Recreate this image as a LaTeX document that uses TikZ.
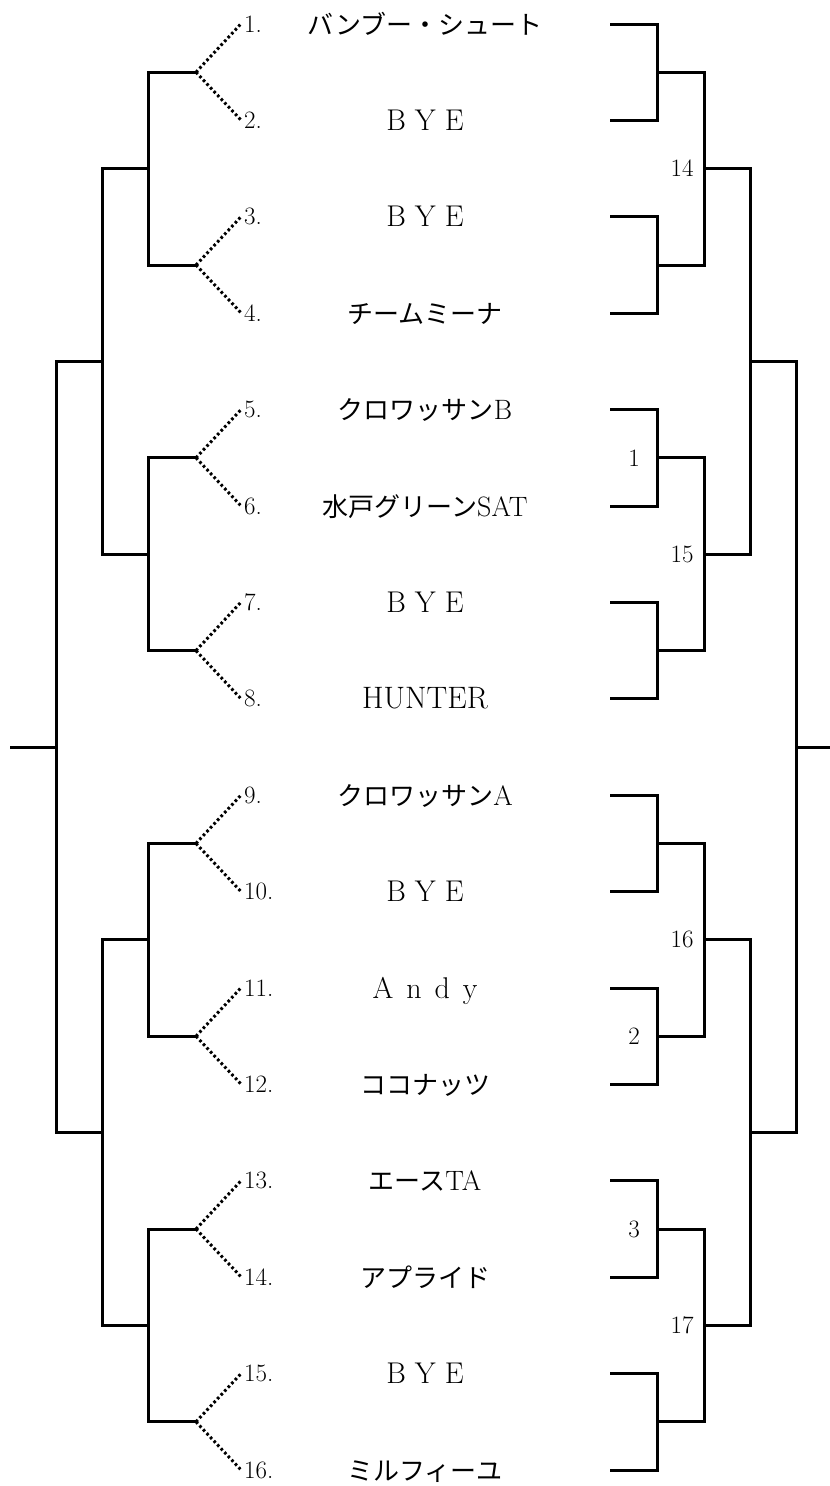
\documentclass[tikz,border=0pt]{standalone}
\usepackage{
	fontspec,			% Fonts
	tikz
}
\newfontfamily\jpfont{Noto Sans CJK JP}
\newcommand{\jp}[1]{{\jpfont\fontsize{26}{30}\selectfont #1}}
\newcommand{\lat}[1]{{\fontsize{28}{32}\selectfont #1}}
\newcommand{\byetext}{{\fontsize{30}{34}\selectfont B\hspace{.3em}Y\hspace{.3em}E}}
\newcommand{\andytext}{{\fontsize{30}{34}\selectfont A\hspace{.43em}n\hspace{.43em}d\hspace{.43em}y}}
\tikzset{
	bracket/.style={line width=3pt},
	dots/.style={line width=3pt, dash pattern=on 2.6pt off 2.6pt},
	team/.style={anchor=base, inner sep=0pt},
	num/.style={anchor=base west, inner sep=0pt, font=\fontsize{25}{29}\selectfont},
	seed/.style={inner sep=0pt, font=\fontsize{25}{29}\selectfont}
}

\begin{document}
\begin{tikzpicture}[x=1pt, y=-1pt]
			\useasboundingbox (0,0) rectangle (830,1486);
			\foreach \i/\name in {1/{\jp{バンブー・シュート}}, 2/{\byetext}, 3/{\byetext}, 4/{\jp{チームミーナ}},
				5/{\jp{クロワッサン}\lat{B}}, 6/{\jp{水戸グリーン}\lat{SAT}}, 7/{\byetext}, 8/{\fontsize{31}{35}\selectfont HUNTER},
				9/{\jp{クロワッサン}\lat{A}}, 10/{\byetext}, 11/{\andytext}, 12/{\jp{ココナッツ}},
				13/{\jp{エース}\lat{TA}}, 14/{\jp{アプライド}}, 15/{\byetext}, 16/{\jp{ミルフィーユ}}}{
				\pgfmathsetmacro\yy{24+96.4*(\i-1)}
				\node[num] (n\i) at (244,\yy+8) {\i.};
				\node[team] (t\i) at (425,\yy+10) {\name};
				\coordinate (r\i) at (610,\yy);
			}
			\foreach \k in {1,...,8}{
				\pgfmathtruncatemacro\a{2*\k-1}
				\pgfmathtruncatemacro\b{2*\k}
				\pgfmathsetmacro\yy{24+96.4*(2*\k-1.5)}
				\coordinate (a\k) at (196,\yy);
				\coordinate (m\k) at (657,\yy);
				\draw[dots] (a\k) -- ([xshift=-3pt]n\a.west);
				\draw[dots] (a\k) -- ([xshift=-3pt]n\b.west);
				\draw[bracket] (r\a) -| (m\k) |- (r\b);
			}
			\foreach \j in {1,...,4}{
				\pgfmathtruncatemacro\a{2*\j-1}
				\pgfmathtruncatemacro\b{2*\j}
				\pgfmathsetmacro\yy{24+96.4*(4*\j-2.5)}
				\coordinate (b\j) at (148,\yy);
				\coordinate (p\j) at (704,\yy);
				\draw[bracket] (a\a) -| (b\j) |- (a\b);
				\draw[bracket] (m\a) -| (p\j) |- (m\b);
			}
			\foreach \l in {1,2}{
				\pgfmathtruncatemacro\a{2*\l-1}
				\pgfmathtruncatemacro\b{2*\l}
				\pgfmathsetmacro\yy{24+96.4*(8*\l-4.5)}
				\coordinate (c\l) at (102,\yy);
				\coordinate (s\l) at (750,\yy);
				\draw[bracket] (b\a) -| (c\l) |- (b\b);
				\draw[bracket] (p\a) -| (s\l) |- (p\b);
			}
			\coordinate (d) at (56,747);
			\coordinate (e) at (796,747);
			\draw[bracket] (10,747) -- (d);
			\draw[bracket] (c1) -| (d) |- (c2);
			\draw[bracket] (s1) -| (e) |- (s2);
			\draw[bracket] (e) -- (830,747);
			\node[seed] (w1) at ([xshift=-23pt]m3) {1};
			\node[seed] (w2) at ([xshift=-23pt]m6) {2};
			\node[seed] (w3) at ([xshift=-23pt]m7) {3};
			\foreach \j/\g in {1/14, 2/15, 3/16, 4/17}{
				\node[seed] (g\g) at ([xshift=-22pt]p\j) {\g};
			}
		\end{tikzpicture}
\end{document}
